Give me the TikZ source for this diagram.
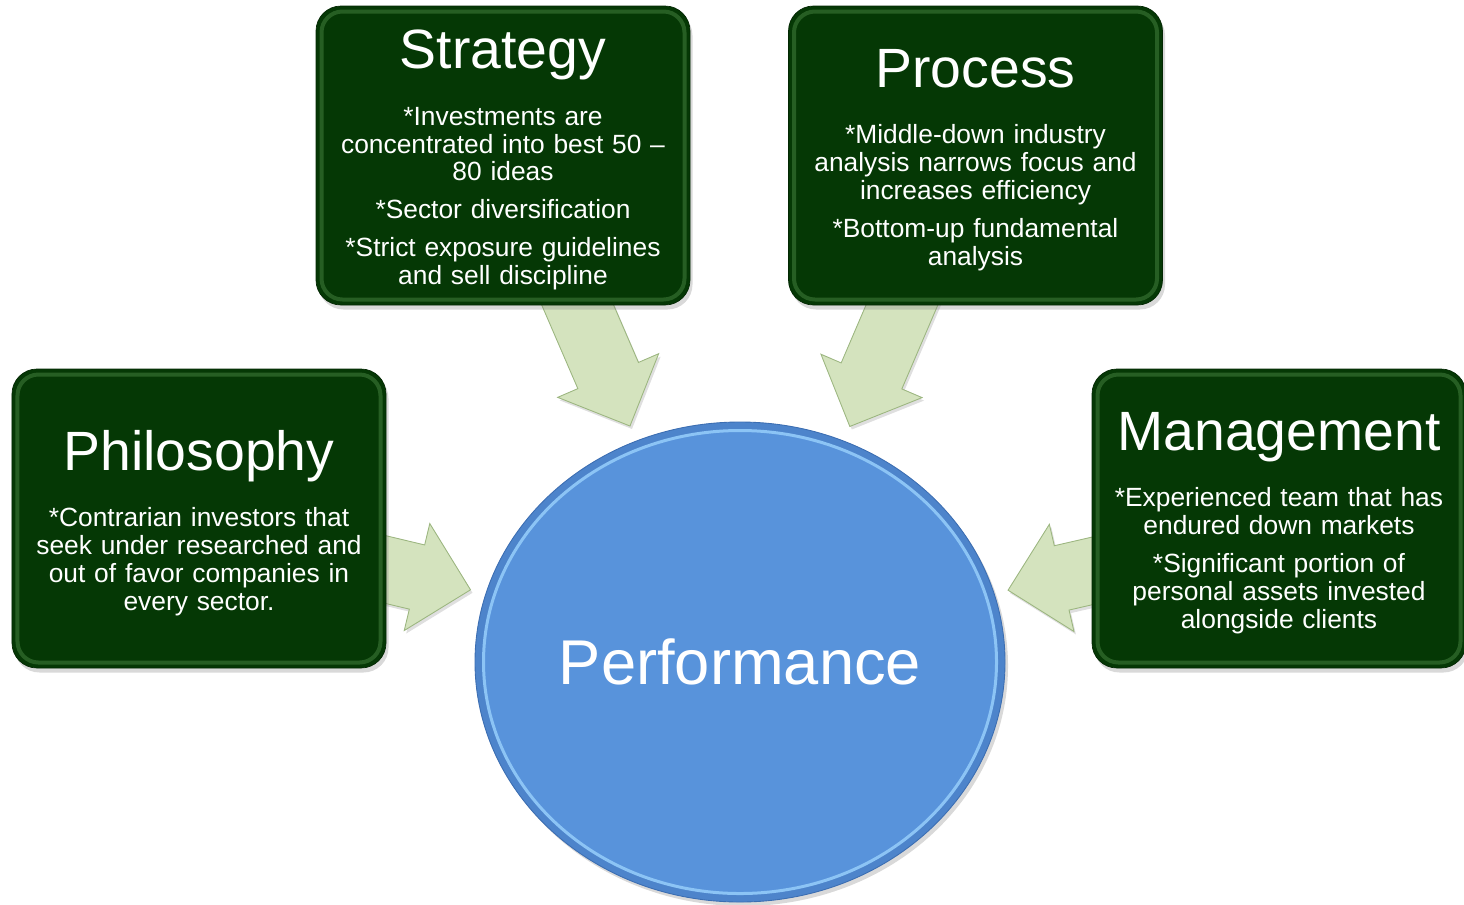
\documentclass[tikz,border=0pt]{standalone}
\usepackage{fontspec}
\setmainfont{Liberation Sans}
\usetikzlibrary{shapes.geometric,shadows,calc,backgrounds}

\definecolor{panelgreen}{RGB}{5,56,5}
\definecolor{panelrim}{RGB}{80,142,72}
\definecolor{arrowfill}{RGB}{212,227,190}
\definecolor{arrowedge}{RGB}{156,182,128}
\definecolor{perfblue}{RGB}{88,147,219}
\definecolor{perfrim}{RGB}{140,196,245}
\definecolor{perfedge}{RGB}{60,110,178}

% text inside the green panels
\newcommand\panelfont{\fontsize{15}{15.9}\selectfont\lineskiplimit=-100pt\relax}
\newcommand\paneltitle[1]{{\fontsize{31.5}{31.5}\selectfont #1\par}\vspace{16.4pt}}
\newcommand\gap{\par\vspace{5.7pt}}

% block arrow from a foot point to a tip
\newcommand\blockarrow[2]{%
  \path ($(#2)!11mm!(#1)$) coordinate (neck);
  \draw[flowarrow] ($(#1)!6.6mm!90:(#2)$) -- ($(neck)!6.6mm!90:(#2)$)
    -- ($(neck)!11mm!90:(#2)$) -- (#2) -- ($(neck)!11mm!-90:(#2)$)
    -- ($(neck)!6.6mm!-90:(#2)$) -- ($(#1)!6.6mm!-90:(#2)$) -- cycle;}

\tikzset{
  panel/.style={draw=panelgreen!70!black, fill=panelgreen, rounded corners=5mm,
    text=white, text width=70mm, inner xsep=2.4mm, minimum height=59.8mm,
    align=center, font=\panelfont,
    execute at end node={\par\vspace{-5.1pt}},
    drop shadow={shadow xshift=0.5mm, shadow yshift=-0.9mm, opacity=0.3},
    path picture={
      \draw[panelrim, line width=0.8mm, opacity=0.45, rounded corners=4.2mm]
        ([shift={(1.1mm,-1.1mm)}]path picture bounding box.north west) rectangle
        ([shift={(-1.1mm,1.1mm)}]path picture bounding box.south east);}},
  flowarrow/.style={fill=arrowfill, draw=arrowedge, line width=0.5pt, line join=miter,
    drop shadow={shadow xshift=0.4mm, shadow yshift=-0.6mm, opacity=0.25}},
  hub/.style={ellipse, minimum width=106mm, minimum height=96mm, inner sep=0pt,
    fill=perfedge!40!perfblue, draw=perfedge, line width=0.5pt,
    text=white, font=\fontsize{36}{40}\selectfont,
    drop shadow={shadow xshift=0.6mm, shadow yshift=-0.8mm, opacity=0.3},
    path picture={
      \draw[perfrim, line width=0.6mm, fill=perfblue]
        (path picture bounding box.center) ellipse [x radius=51.3mm, y radius=46.3mm];}}
}

\begin{document}
\begin{tikzpicture}[x=0.2mm,y=-0.2mm]
  \useasboundingbox (0,0) rectangle (1464,904);

  \node[hub] (perf) at (740,662) {Performance};

  \node[panel] (strategy) at (503,155.5) {%
    \paneltitle{Strategy}
    *Investments are\\concentrated into best 50 –\\80 ideas\gap
    *Sector diversification\gap
    *Strict exposure guidelines\\and sell discipline};
  \node[panel] (process) at (975.5,155.5) {%
    \paneltitle{Process}
    *Middle-down industry\\analysis narrows focus and\\increases efficiency\gap
    *Bottom-up fundamental\\analysis};
  \node[panel] (philosophy) at (199,518.5) {%
    \paneltitle{Philosophy}
    *Contrarian investors that\\seek under researched and\\out of favor companies in\\every sector.};
  \node[panel] (management) at (1279,518.5) {%
    \paneltitle{Management}
    *Experienced team that has\\endured down markets\gap
    *Significant portion of\\personal assets invested\\alongside clients};

  % arrow feet sit under the panels, tips just off the ellipse
  \coordinate (stratfoot) at ($(strategy.south)+(64,-25)$);
  \coordinate (procfoot) at ($(process.south)+(-63,-25)$);
  \coordinate (philfoot) at ($(philosophy.east)+(-26,45)$);
  \coordinate (mgmtfoot) at ($(management.west)+(24,47)$);
  \coordinate (strattip) at ($(perf.115)!-3.2mm!(perf.center)$);
  \coordinate (proctip) at ($(perf.65)!-3.1mm!(perf.center)$);
  \coordinate (philtip) at ($(perf.165)!-3.1mm!(perf.center)$);
  \coordinate (mgmttip) at ($(perf.15)!-2.8mm!(perf.center)$);

  \begin{pgfonlayer}{background}
    \blockarrow{stratfoot}{strattip}
    \blockarrow{procfoot}{proctip}
    \blockarrow{philfoot}{philtip}
    \blockarrow{mgmtfoot}{mgmttip}
  \end{pgfonlayer}
\end{tikzpicture}
\end{document}
